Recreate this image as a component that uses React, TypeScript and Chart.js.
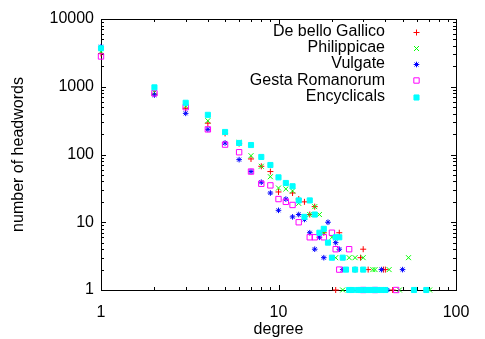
import React, { useEffect, useRef } from 'react';
import { Chart, registerables } from 'chart.js';

Chart.register(...registerables);

const FONT = "'Liberation Sans', Arial, Helvetica, sans-serif";

const seriesNames = ['De bello Gallico', 'Philippicae', 'Vulgate', 'Gesta Romanorum', 'Encyclicals'];
const seriesColors = ['#ff0000', '#00ff00', '#0000ff', '#ff00ff', '#00ffff'];

const gallicoDegrees = [1, 2, 3, 4, 5, 6, 7, 8, 9, 10, 12, 13, 14, 15, 16, 18, 21, 22, 27, 29, 30, 32, 33, 36, 39, 40, 44];
const gallicoCounts = [3100, 780, 480, 290, 205, 145, 86, 67, 56, 28, 27, 22, 20, 13, 17, 7, 1, 7, 2, 3, 4, 2, 1, 1, 2, 2, 1];

const philippicaeDegrees = [1, 2, 3, 4, 5, 6, 7, 8, 9, 10, 11, 12, 13, 15, 16, 17, 18, 20, 21, 23, 25, 27, 30, 34, 35, 42, 48, 54, 71];
const philippicaeCounts = [3300, 820, 520, 315, 210, 150, 96, 67, 47, 32, 31, 29, 19, 13, 17, 13, 7, 6, 3, 1, 3, 3, 3, 2, 2, 2, 1, 3, 1];

const vulgateDegrees = [1, 2, 3, 4, 5, 6, 7, 8, 9, 10, 11, 12, 13, 14, 15, 16, 17, 18, 19, 21, 22, 23, 26, 30, 38, 41, 50];
const vulgateCounts = [3900, 755, 405, 235, 148, 84, 56, 39, 27, 15, 22, 12, 13, 11, 7, 4, 6, 3, 10, 5, 4, 2, 1, 1, 2, 1, 2];

const gestaDegrees = [1, 2, 3, 4, 5, 6, 7, 8, 9, 10, 11, 12, 13, 15, 16, 18, 20, 21, 22, 25, 30, 35, 46];
const gestaCounts = [2800, 800, 500, 235, 140, 108, 56, 37, 35, 22, 20, 18, 10, 6, 6, 6, 7, 4, 2, 4, 1, 1, 1];

const encyclicalsDegrees = [1, 2, 3, 4, 5, 6, 7, 8, 9, 10, 11, 12, 13, 14, 15, 16, 17, 18, 19, 20, 21, 22, 23, 24, 25, 26, 27, 28, 29, 30, 31, 32, 33, 34, 35, 36, 38, 40, 58, 68];
const encyclicalsCounts = [3700, 980, 580, 385, 215, 148, 138, 92, 70, 46, 38, 34, 21, 12, 21, 13, 7, 8, 5, 3, 6, 6, 3, 2, 1, 1, 2, 1, 1, 2, 1, 1, 1, 1, 1, 1, 1, 1, 1, 1];

const xTickValues = [1, 10, 100];
const yTickValues = [1, 10, 100, 1000, 10000];

type Marker = { style: string; radius: number; filled: boolean };
const markers: Marker[] = [
  { style: 'cross', radius: 3, filled: false },
  { style: 'crossRot', radius: 3.5, filled: false },
  { style: 'star', radius: 2.8, filled: false },
  { style: 'rect', radius: 3.8, filled: false },
  { style: 'rect', radius: 3.6, filled: true },
];

const toPoints = (xs: number[], ys: number[]) => xs.map((x, i) => ({ x, y: ys[i] }));

const seriesData = [
  toPoints(gallicoDegrees, gallicoCounts),
  toPoints(philippicaeDegrees, philippicaeCounts),
  toPoints(vulgateDegrees, vulgateCounts),
  toPoints(gestaDegrees, gestaCounts),
  toPoints(encyclicalsDegrees, encyclicalsCounts),
];

function drawMarker(ctx: CanvasRenderingContext2D, m: Marker, x: number, y: number, color: string) {
  const r = m.radius;
  ctx.save();
  ctx.strokeStyle = color;
  ctx.fillStyle = color;
  ctx.lineWidth = 1;
  ctx.beginPath();
  if (m.style === 'cross') {
    ctx.moveTo(x - r, y); ctx.lineTo(x + r, y);
    ctx.moveTo(x, y - r); ctx.lineTo(x, y + r);
    ctx.stroke();
  } else if (m.style === 'crossRot') {
    const d = r * Math.SQRT1_2;
    ctx.moveTo(x - d, y - d); ctx.lineTo(x + d, y + d);
    ctx.moveTo(x - d, y + d); ctx.lineTo(x + d, y - d);
    ctx.stroke();
  } else if (m.style === 'star') {
    const d = r * Math.SQRT1_2;
    ctx.moveTo(x - r, y); ctx.lineTo(x + r, y);
    ctx.moveTo(x, y - r); ctx.lineTo(x, y + r);
    ctx.moveTo(x - d, y - d); ctx.lineTo(x + d, y + d);
    ctx.moveTo(x - d, y + d); ctx.lineTo(x + d, y - d);
    ctx.stroke();
  } else {
    const s = r * Math.SQRT1_2;
    ctx.rect(x - s, y - s, 2 * s, 2 * s);
    if (m.filled) ctx.fill();
    ctx.stroke();
  }
  ctx.restore();
}

const framePlugin = {
  id: 'gnuplotFrame',
  beforeDatasetsDraw(chart: any) {
    const { ctx, chartArea: a, scales } = chart;
    ctx.save();
    ctx.strokeStyle = '#000';
    ctx.lineWidth = 1;
    ctx.strokeRect(Math.round(a.left) + 0.5, Math.round(a.top) + 0.5, Math.round(a.right - a.left), Math.round(a.bottom - a.top));
    ctx.beginPath();
    for (let e = 0; e < 2; e++) {
      for (let d = 1; d <= 9; d++) {
        const v = d * Math.pow(10, e);
        const px = Math.round(scales.x.getPixelForValue(v)) + 0.5;
        const len = d === 1 ? 5 : 3;
        ctx.moveTo(px, a.bottom); ctx.lineTo(px, a.bottom - len);
        ctx.moveTo(px, a.top); ctx.lineTo(px, a.top + len);
      }
    }
    for (let e = 0; e < 4; e++) {
      for (let d = 1; d <= 9; d++) {
        const v = d * Math.pow(10, e);
        const py = Math.round(scales.y.getPixelForValue(v)) + 0.5;
        const len = d === 1 ? 5 : 3;
        ctx.moveTo(a.left, py); ctx.lineTo(a.left + len, py);
        ctx.moveTo(a.right, py); ctx.lineTo(a.right - len, py);
      }
    }
    ctx.stroke();
    ctx.restore();
  },
  afterDatasetsDraw(chart: any) {
    const { ctx } = chart;
    ctx.save();
    ctx.font = `16px ${FONT}`;
    ctx.fillStyle = '#000';
    ctx.textAlign = 'right';
    ctx.textBaseline = 'middle';
    seriesNames.forEach((name, i) => {
      const y = 31.5 + i * 16.25;
      ctx.fillText(name, 385, y);
      drawMarker(ctx, markers[i], 416.5, Math.round(y) + 0.5, seriesColors[i]);
    });
    ctx.restore();
  },
};

export default function App() {
  const canvasRef = useRef<HTMLCanvasElement | null>(null);

  useEffect(() => {
    if (!canvasRef.current) return;
    const chart = new Chart(canvasRef.current, {
      type: 'scatter',
      data: {
        datasets: seriesNames.map((name, i) => ({
          label: name,
          data: seriesData[i],
          showLine: false,
          pointStyle: markers[i].style as any,
          pointRadius: markers[i].radius,
          pointHoverRadius: markers[i].radius,
          borderColor: seriesColors[i],
          backgroundColor: markers[i].filled ? seriesColors[i] : 'rgba(0,0,0,0)',
          borderWidth: 1,
          pointBorderWidth: 1,
          order: seriesNames.length - 1 - i,
          clip: false as any,
        })),
      },
      options: {
        animation: false,
        responsive: false,
        devicePixelRatio: 1,
        events: [],
        layout: { padding: { top: 19, right: 29, left: 0, bottom: 0 } },
        plugins: {
          legend: { display: false },
          tooltip: { enabled: false },
        },
        scales: {
          x: {
            type: 'logarithmic',
            position: 'bottom',
            min: 1,
            max: 100,
            afterBuildTicks: (s: any) => {
              s.ticks = xTickValues.map((v) => ({ value: v }));
            },
            afterFit: (s: any) => {
              s.height = 49;
            },
            grid: { display: false, drawTicks: false },
            border: { display: false },
            ticks: {
              font: { family: FONT, size: 16 },
              color: '#000',
              padding: 13,
              maxRotation: 0,
              autoSkip: false,
              callback: (v: any) => String(v),
            },
            title: {
              display: true,
              text: 'degree',
              font: { family: FONT, size: 16 },
              color: '#000',
              padding: { top: 0, bottom: 0 },
            },
          },
          y: {
            type: 'logarithmic',
            position: 'left',
            min: 1,
            max: 10000,
            afterBuildTicks: (s: any) => {
              s.ticks = yTickValues.map((v) => ({ value: v }));
            },
            afterFit: (s: any) => {
              s.width = 101;
            },
            grid: { display: false, drawTicks: false },
            border: { display: false },
            ticks: {
              font: { family: FONT, size: 16 },
              color: '#000',
              padding: 7,
              autoSkip: false,
              callback: (v: any) => String(v),
            },
            title: {
              display: true,
              text: 'number of headwords',
              font: { family: FONT, size: 16 },
              color: '#000',
              padding: { top: 9, bottom: 0 },
            },
          },
        },
      },
      plugins: [framePlugin],
    });
    return () => chart.destroy();
  }, []);

  return (
    <div style={{ position: 'absolute', left: 0, top: 0, width: 485, height: 339, background: '#fff' }}>
      <canvas ref={canvasRef} width={485} height={339} />
    </div>
  );
}
